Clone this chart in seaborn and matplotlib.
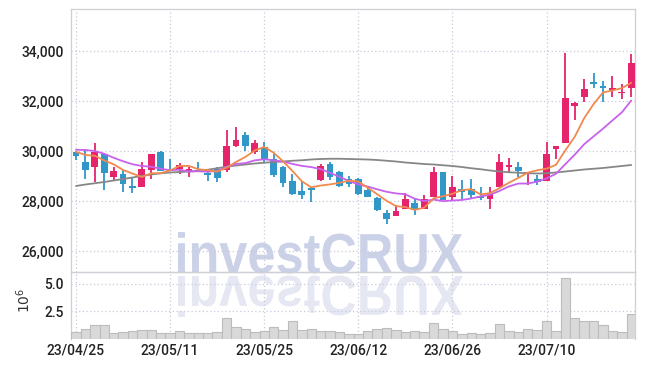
import numpy as np
import pandas as pd
import matplotlib
matplotlib.use("Agg")
import matplotlib.pyplot as plt
import seaborn as sns
from matplotlib.textpath import TextPath
from matplotlib.patches import PathPatch
from matplotlib.font_manager import FontProperties, fontManager
from matplotlib.transforms import Affine2D
from matplotlib.ticker import FuncFormatter

# ---------------- data ----------------
dates = ["23/04/25","23/04/26","23/04/27","23/04/28","23/05/02","23/05/03","23/05/04","23/05/08",
         "23/05/09","23/05/10","23/05/11","23/05/12","23/05/15","23/05/16","23/05/17","23/05/18",
         "23/05/19","23/05/22","23/05/23","23/05/24","23/05/25","23/05/26","23/05/30","23/05/31",
         "23/06/01","23/06/02","23/06/05","23/06/07","23/06/08","23/06/09","23/06/12","23/06/13",
         "23/06/14","23/06/15","23/06/16","23/06/19","23/06/20","23/06/21","23/06/22","23/06/23",
         "23/06/26","23/06/27","23/06/28","23/06/29","23/06/30","23/07/03","23/07/04","23/07/05",
         "23/07/06","23/07/07","23/07/10","23/07/11","23/07/12","23/07/13","23/07/14","23/07/17",
         "23/07/18","23/07/19","23/07/20","23/07/21"]

opens = [29950, 29570, 29350, 29880, 28950, 29080, 28560, 28570, 29240, 29970,
         29260, 29270, 29200, 29230, 29110, 29300, 29240, 30210, 30640, 29970,
         30170, 29680, 29370, 28810, 28410, 28510, 28840, 29480, 29150, 28870,
         28870, 28440, 28130, 27530, 27400, 27690, 27920, 27670, 28170, 29170,
         28170, 28490, 28470, 28200, 28090, 28570, 29370, 29350, 29080, 28890,
         28810, 30070, 30330, 31810, 32150, 32770, 32610, 32440, 32310, 32510]
highs = [30000, 30070, 30310, 29930, 29370, 29240, 28910, 29550, 29900, 29990,
         29670, 29510, 29370, 29570, 29240, 29370, 30840, 30950, 30770, 30440,
         30370, 29900, 29400, 29080, 28770, 28570, 29480, 29570, 29210, 29000,
         28910, 28570, 28170, 27640, 27830, 28310, 28120, 28240, 29350, 29180,
         29000, 28840, 28870, 28570, 28550, 29880, 29730, 29570, 29180, 29040,
         30370, 30200, 33930, 31970, 32890, 33110, 32800, 33000, 32680, 33880]
lows = [29650, 28870, 28770, 28440, 28840, 28370, 28310, 28550, 28880, 29200,
        29210, 29080, 28950, 29190, 28810, 28770, 29170, 30170, 30010, 29880,
        29570, 28970, 28570, 28260, 28070, 27970, 28800, 28840, 28550, 28570,
        28250, 28150, 27620, 27070, 27400, 27690, 27460, 27670, 28160, 28030,
        28040, 28070, 28110, 28040, 27670, 28570, 29170, 28950, 28640, 28640,
        28810, 29670, 30330, 31240, 31970, 32510, 31970, 32150, 32070, 32150]
closes = [29800, 29250, 29960, 29130, 29200, 28670, 28530, 29270, 29880, 29210,
          29220, 29440, 29270, 29200, 29030, 28930, 30200, 30440, 30210, 30330,
          29640, 29040, 28730, 28280, 28250, 28440, 29400, 28950, 28600, 28670,
          28280, 28170, 27640, 27290, 27600, 28070, 27630, 28070, 29150, 28040,
          28550, 28370, 28240, 28110, 28310, 29550, 29440, 29210, 29170, 28770,
          29880, 30200, 32110, 31910, 32470, 32690, 32530, 32510, 32370, 33530]
volume_m = [0.67, 0.91, 1.27, 1.27, 0.58, 0.67, 0.76, 0.82, 0.82, 0.58,
            0.52, 0.73, 0.58, 0.58, 0.58, 0.67, 1.87, 1.09, 0.91, 0.67,
            0.76, 1.09, 0.82, 1.63, 0.82, 0.91, 0.76, 0.76, 0.67, 0.49,
            0.49, 0.76, 0.94, 1.03, 0.85, 0.67, 0.76, 0.67, 1.45, 0.94,
            0.76, 0.49, 0.58, 0.49, 0.58, 1.36, 0.76, 0.67, 0.91, 0.85,
            1.63, 0.76, 5.50, 1.90, 1.63, 1.63, 1.27, 0.76, 0.67, 2.26]
# moving-average values at the start of the window
ma5_head = [29970, 29840, 29810, 29620]
ma10_head = [30050, 30040, 30000, 29890, 29730, 29590, 29470, 29400, 29370]
# long moving average (grey line)
ma_long = [28600, 28660, 28710, 28760, 28820, 28880, 28940, 29000, 29060, 29110,
           29140, 29160, 29180, 29200, 29250, 29310, 29370, 29420, 29460, 29500,
           29530, 29560, 29580, 29610, 29630, 29660, 29680, 29690, 29690, 29680,
           29670, 29660, 29640, 29610, 29580, 29540, 29510, 29480, 29460, 29430,
           29400, 29360, 29310, 29270, 29220, 29180, 29150, 29130, 29110, 29100,
           29110, 29140, 29180, 29220, 29260, 29290, 29320, 29360, 29400, 29440]
price_ticks = [26000, 28000, 30000, 32000, 34000]
volume_ticks = [2.5, 5.0]

# ---------------- derived ----------------
df = pd.DataFrame({"date": dates, "open": opens, "high": highs, "low": lows,
                   "close": closes, "vol": volume_m})
df["i"] = np.arange(len(df))
ma5 = df["close"].rolling(5).mean().to_numpy()
ma5[:len(ma5_head)] = ma5_head
ma10 = df["close"].rolling(10).mean().to_numpy()
ma10[:len(ma10_head)] = ma10_head
df["ma5"] = ma5
df["ma10"] = ma10
df["malong"] = ma_long

RED = "#e5246b"
BLUE = "#3196c8"
ORANGE = "#f08a4e"
PURPLE = "#c862ec"
GREY = "#878787"
GRID = "#c9cbdc"
SPINE = "#cfcfd6"
TXT = "#222222"

sns.set_theme(style="white")
names = {f.name for f in fontManager.ttflist}
if "Liberation Sans Narrow" in names:
    tick_family, tick_weight, tick_size = "Liberation Sans Narrow", "bold", 11
elif "Roboto" in names:
    tick_family, tick_weight, tick_size = "Roboto", "medium", 10
else:
    tick_family, tick_weight, tick_size = "Liberation Sans", "normal", 10
plt.rcParams["font.family"] = [tick_family, "DejaVu Sans"]
plt.rcParams["font.weight"] = tick_weight

W, H = 645, 366
fig = plt.figure(figsize=(W / 100, H / 100), dpi=100)
fig.patch.set_facecolor("white")

L, R = 71, 635
ax = fig.add_axes([L / W, 1 - 272 / H, (R - L) / W, (272 - 9) / H])
axv = fig.add_axes([L / W, 1 - 339 / H, (R - L) / W, (339 - 272) / H])
for a in (ax, axv):
    a.set_facecolor("none")

# watermark + reflection (behind axes)
wm_fp = FontProperties(family="Liberation Sans", weight="bold")
tp = TextPath((0, 0), "investCRUX", size=100, prop=wm_fp)
ext = tp.get_extents()
cap = TextPath((0, 0), "C", size=100, prop=wm_fp).get_extents().height
sx = (463 - 178) / ext.width
sy = 40 / cap
base = H - 273
tr = Affine2D().translate(-ext.x0, 0).scale(sx, sy).translate(178, base)
fig.add_artist(PathPatch(tp, facecolor="#cbd1e7", edgecolor="none", transform=tr, zorder=-2))
tr2 = Affine2D().translate(-ext.x0, 0).scale(sx, -sy).translate(178, base - 3)
fig.add_artist(PathPatch(tp, facecolor="#e5e8f2", edgecolor="none", transform=tr2, zorder=-2))

# candles
up = df["close"] >= df["open"]
cols = np.where(up, RED, BLUE)
ax.vlines(df["i"], df["low"], df["high"], colors=cols, linewidth=1.3, zorder=3)
body_bot = np.minimum(df["open"], df["close"])
body_h = np.maximum(np.abs(df["close"] - df["open"]), 55)
ax.bar(df["i"], body_h, bottom=body_bot, width=0.72, color=cols, linewidth=0, zorder=4)

# moving averages
sns.lineplot(data=df, x="i", y="malong", ax=ax, color=GREY, linewidth=1.3, zorder=5)
sns.lineplot(data=df, x="i", y="ma10", ax=ax, color=PURPLE, linewidth=1.3, zorder=6)
sns.lineplot(data=df, x="i", y="ma5", ax=ax, color=ORANGE, linewidth=1.3, zorder=7)

# volume
sns.barplot(data=df, x="i", y="vol", ax=axv, color="#d9d9d9", saturation=1,
            width=1.0, edgecolor="#bcbcbc", linewidth=0.8, zorder=3)

xlim = (-0.53, 59.4)
xt = list(range(0, 60, 10))
for a in (ax, axv):
    a.set_xlim(*xlim)
    a.set_xticks(xt)
    a.grid(True, which="major", linestyle=(0, (1, 2)), color=GRID, linewidth=0.9, zorder=0)
    a.set_axisbelow(True)
    a.tick_params(length=0)
    a.set_xlabel("")
    a.set_ylabel("")
    for s in a.spines.values():
        s.set_color(SPINE)
        s.set_linewidth(0.9)

ax.set_ylim(25160, 35680)
ax.set_yticks(price_ticks)
ax.yaxis.set_major_formatter(FuncFormatter(lambda v, p: f"{int(v):,}"))
ax.set_xticklabels([])
ax.tick_params(axis="y", labelsize=tick_size, labelcolor=TXT, pad=5)

axv.set_ylim(0, 6.05)
axv.set_yticks(volume_ticks)
axv.set_yticklabels([f"{v:.1f}" for v in volume_ticks])
axv.set_xticklabels([dates[k] for k in xt])
axv.tick_params(axis="both", labelsize=tick_size, labelcolor=TXT, pad=5)
axv.tick_params(axis="x", pad=3)
axv.spines["bottom"].set_visible(False)
axv.set_ylabel(r"$10^6$", fontsize=10, color="#333333")
axv.yaxis.set_label_coords(-0.067, 0.58)

fig.savefig("out.png", dpi=100, facecolor="white")
